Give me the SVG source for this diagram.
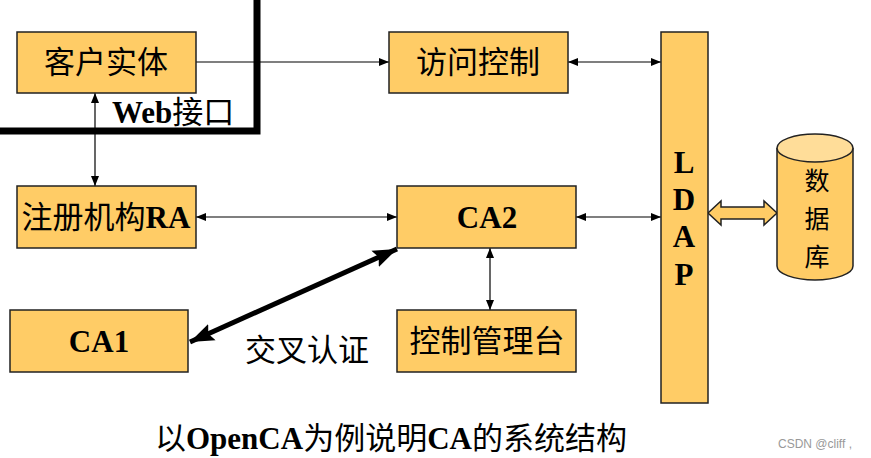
<svg xmlns="http://www.w3.org/2000/svg" width="871" height="458" viewBox="0 0 871 458">
<style>
.box{fill:#FFCC66;stroke:#222;stroke-width:1.5}
.cn{font-family:"Noto Sans CJK SC","Noto Sans",sans-serif;font-size:31px;fill:#000}
.lat{font-family:"Liberation Serif",serif;font-weight:bold}
.ln{fill:none;stroke:#000;stroke-width:1.2}
.dbt{font-family:"Noto Sans CJK SC","Noto Sans",sans-serif;font-size:25px;fill:#000;text-anchor:middle}
</style>
<defs>
<marker id="a" markerUnits="userSpaceOnUse" markerWidth="10" markerHeight="10" viewBox="0 0 10 10" refX="10" refY="5" orient="auto-start-reverse">
<path d="M0,1 L10,5 L0,9 Z" fill="#000"/>
</marker>
<marker id="b" markerUnits="userSpaceOnUse" markerWidth="24" markerHeight="20" viewBox="0 0 24 20" refX="24" refY="10" orient="auto-start-reverse">
<path d="M0,1 L24,10 L0,19 L4,10 Z" fill="#000"/>
</marker>
</defs>
<rect width="871" height="458" fill="#fff"/>
<g id="connectors">
<line class="ln" x1="196" y1="62" x2="389" y2="62" marker-end="url(#a)"/>
<line class="ln" x1="568" y1="62" x2="661" y2="62" marker-start="url(#a)" marker-end="url(#a)"/>
<line class="ln" x1="95" y1="93" x2="95" y2="186" marker-start="url(#a)" marker-end="url(#a)"/>
<line class="ln" x1="196" y1="217" x2="397" y2="217" marker-start="url(#a)" marker-end="url(#a)"/>
<line class="ln" x1="576" y1="217" x2="661" y2="217" marker-start="url(#a)" marker-end="url(#a)"/>
<line class="ln" x1="490" y1="248" x2="490" y2="310" marker-start="url(#a)" marker-end="url(#a)"/>
<line x1="190" y1="342" x2="397" y2="249" stroke="#000" stroke-width="5" marker-start="url(#b)" marker-end="url(#b)"/>
<path d="M708,213 L721,201 L721,207 L764,207 L764,201 L777,213 L764,225 L764,219 L721,219 L721,225 Z" fill="#FFCC66" stroke="#222" stroke-width="1.5"/>
</g>
<g id="frame">
<path d="M0,131 H257 V0" fill="none" stroke="#000" stroke-width="7"/>
</g>
<g id="web">
<text x="112" y="123" class="cn" font-size="29"><tspan class="lat">Web</tspan>接口</text>
</g>
<g id="client">
<rect class="box" x="17" y="32" width="179" height="61"/>
<text x="106" y="73" class="cn" text-anchor="middle">客户实体</text>
</g>
<g id="access">
<rect class="box" x="389" y="32" width="179" height="61"/>
<text x="478" y="73" class="cn" text-anchor="middle">访问控制</text>
</g>
<g id="ldap">
<rect class="box" x="661" y="32" width="47" height="371"/>
<text x="684" class="cn lat" font-size="29" text-anchor="middle"><tspan x="684" y="173">L</tspan><tspan x="684" y="210">D</tspan><tspan x="684" y="247">A</tspan><tspan x="684" y="285">P</tspan></text>
</g>
<g id="ra">
<rect class="box" x="17" y="186" width="179" height="62"/>
<text x="106" y="228" class="cn" text-anchor="middle">注册机构<tspan class="lat">RA</tspan></text>
</g>
<g id="ca2">
<rect class="box" x="397" y="186" width="179" height="62"/>
<text x="487" y="228" class="cn lat" font-size="30" text-anchor="middle">CA2</text>
</g>
<g id="console">
<rect class="box" x="397" y="310" width="179" height="62"/>
<text x="487" y="352" class="cn" text-anchor="middle">控制管理台</text>
</g>
<g id="ca1">
<rect class="box" x="10" y="310" width="178" height="62"/>
<text x="99" y="352" class="cn lat" font-size="30" text-anchor="middle">CA1</text>
</g>
<g id="db">
<path d="M777,148 V266 A38,14 0 0 0 853,266 V148" fill="#FFCC66" stroke="#222" stroke-width="1.5"/>
<ellipse cx="815" cy="148" rx="38" ry="14" fill="#FFDD99" stroke="#222" stroke-width="1.5"/>
<text class="dbt" x="817" y="190">数</text>
<text class="dbt" x="817" y="228">据</text>
<text class="dbt" x="817" y="266">库</text>
</g>
<g id="label">
<text x="245" y="361" class="cn" font-size="30">交叉认证</text>
</g>
<text x="155" y="449" class="cn" font-size="31">以<tspan class="lat">OpenCA</tspan>为例说明<tspan class="lat">CA</tspan>的系统结构</text>
<text x="778" y="448" font-family="Liberation Sans,sans-serif" font-size="12" fill="#999">CSDN @cliff ,</text>
</svg>
